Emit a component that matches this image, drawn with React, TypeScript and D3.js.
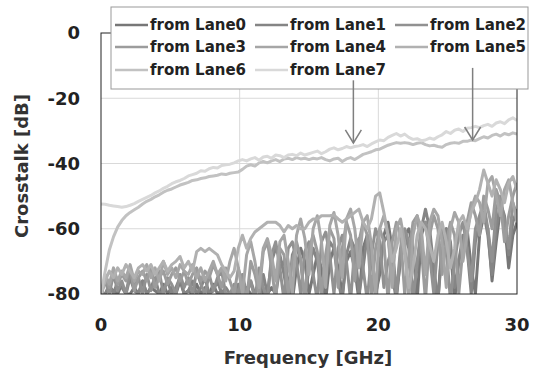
import React from "react";
import * as d3 from "d3";

const W = 539;
const H = 371;

const xTicks = [0, 10, 20, 30];
const yTicks = [0, -20, -40, -60, -80];
const laneNames = ["from Lane0", "from Lane1", "from Lane2", "from Lane3", "from Lane4", "from Lane5", "from Lane6", "from Lane7"];
const laneColors = ["#777777", "#858585", "#919191", "#9c9c9c", "#a6a6a6", "#b1b1b1", "#c2c2c2", "#d9d9d9"];

// frequency grid (GHz), 0.3 GHz step
const freqs = d3.range(0, 101).map((i) => +(i * 0.3).toFixed(1));

const lane0 = [
  -80, -80, -78, -79, -80, -77, -80, -80, -78, -80, -76,
  -80, -78, -79, -80, -77, -80, -78, -80, -76, -80,
  -79, -80, -77, -80, -78, -80, -77, -80, -79, -80,
  -80, -79, -80, -80, -78, -80, -80, -76, -80, -80,
  -78, -80, -72, -70, -76, -82, -72, -66, -70, -80,
  -74, -68, -72, -82, -70, -66, -72, -80, -70, -67,
  -72, -82, -66, -62, -68, -80, -74, -62, -58, -66,
  -80, -70, -62, -60, -66, -82, -62, -58, -64, -76,
  -82, -64, -60, -66, -82, -70, -64, -60, -72, -80,
  -62, -56, -60, -76, -64, -54, -58, -72, -62, -58, -62,
];
const lane1 = [
  -80, -80, -77, -80, -76, -78, -80, -75, -79, -80, -76,
  -80, -78, -75, -80, -79, -76, -80, -78, -75, -80,
  -79, -76, -80, -78, -75, -80, -79, -76, -80, -78,
  -80, -80, -77, -80, -80, -76, -80, -82, -74, -80,
  -70, -66, -68, -74, -82, -68, -65, -70, -82, -72,
  -66, -70, -80, -74, -64, -66, -76, -82, -68, -63,
  -66, -80, -72, -62, -66, -82, -70, -64, -62, -74,
  -82, -68, -62, -66, -80, -72, -60, -54, -60, -72,
  -82, -66, -60, -64, -78, -70, -62, -66, -80, -64,
  -58, -55, -62, -74, -60, -52, -56, -68, -58, -54, -64,
];
const lane2 = [
  -80, -76, -80, -74, -79, -76, -80, -73, -78, -75, -80,
  -74, -79, -76, -73, -80, -75, -77, -80, -74, -78,
  -75, -80, -73, -77, -80, -74, -79, -75, -73, -80,
  -80, -77, -80, -74, -80, -76, -82, -72, -78, -82,
  -68, -64, -72, -82, -66, -64, -70, -80, -67, -64,
  -74, -82, -64, -61, -68, -80, -66, -62, -70, -82,
  -66, -63, -72, -82, -68, -60, -64, -78, -70, -66,
  -80, -66, -60, -64, -82, -70, -60, -58, -68, -80,
  -64, -60, -66, -82, -70, -62, -58, -66, -76, -60,
  -56, -52, -60, -70, -54, -50, -58, -66, -52, -56, -62,
];
const lane3 = [
  -80, -75, -78, -73, -77, -74, -76, -72, -79, -75, -73,
  -76, -72, -78, -75, -73, -77, -74, -72, -76, -73,
  -77, -74, -72, -76, -73, -75, -71, -74, -78, -72,
  -76, -80, -72, -77, -82, -70, -74, -80, -67, -64,
  -72, -82, -66, -68, -80, -70, -64, -69, -82, -66,
  -62, -67, -80, -68, -60, -63, -78, -66, -58, -62,
  -76, -64, -58, -62, -80, -66, -60, -64, -82, -64,
  -58, -62, -80, -68, -58, -56, -66, -82, -62, -56,
  -60, -74, -64, -58, -62, -80, -66, -58, -52, -56,
  -62, -50, -54, -60, -48, -52, -64, -56, -50, -46, -60,
];
const lane4 = [
  -82, -74, -77, -72, -76, -73, -75, -71, -76, -73, -74,
  -71, -75, -72, -76, -70, -74, -72, -75, -71, -73,
  -74, -71, -75, -72, -76, -73, -70, -74, -72, -76,
  -70, -66, -72, -80, -68, -64, -70, -78, -66, -63,
  -68, -76, -64, -62, -70, -80, -62, -57, -63, -74,
  -60, -56, -64, -78, -59, -55, -62, -75, -57, -54,
  -60, -72, -58, -56, -65, -80, -60, -56, -62, -78,
  -60, -57, -64, -82, -62, -56, -60, -74, -58, -54,
  -56, -64, -78, -60, -55, -58, -70, -62, -54, -50,
  -52, -58, -46, -44, -50, -56, -48, -45, -52, -58, -55,
];
const lane5 = [
  -80, -76, -73, -75, -72, -74, -71, -73, -75, -72, -71,
  -73, -71, -74, -72, -70, -73, -71, -70, -68.5, -72,
  -70, -73, -67, -66, -67, -66, -67, -68, -71, -73,
  -75, -73, -66, -62, -66, -63, -61, -60, -59, -58,
  -58, -58, -59, -61, -59, -60, -59, -60, -60, -58,
  -57, -57, -56, -56, -56, -55.8, -57, -58, -57, -56,
  -55, -54, -58, -60, -57, -50, -49, -55, -62, -70,
  -66, -60, -68, -78, -72, -62, -58, -60, -65, -70,
  -62, -58, -64, -72, -66, -58, -56, -60, -55, -52,
  -48, -42, -46, -50, -45, -48, -52, -46, -44, -48, -50,
];
const lane6 = [
  -80, -73, -66.5, -62.5, -59.5, -57.5, -56, -55, -54.2, -53.4, -52.4,
  -51.6, -51, -50.2, -49.6, -48.8, -48.2, -47.8, -47.2, -46.6, -46.2,
  -45.8, -45.2, -45, -44.6, -44.4, -44, -43.8, -43.6, -43.2, -43.4,
  -43, -42.8, -42.6, -41.8, -40.8, -40.4, -40.8, -39.8, -39.4, -39.8,
  -39.2, -38.8, -39.4, -38.6, -38.4, -38.8, -38.2, -38.6, -38.4, -38.8,
  -38.4, -38.6, -38.2, -38.8, -39.2, -38.6, -38.4, -39.4, -38.6, -38.2,
  -38.8, -38, -37.2, -36.8, -36.4, -35.8, -35.6, -35, -34.4, -34,
  -33.6, -33.8, -33.6, -33.8, -34.2, -33.8, -33.6, -34.2, -34.6, -34.4,
  -34.8, -35, -34.2, -33.8, -33.6, -33.8, -33.2, -33.2, -32.8, -33,
  -32.4, -31.8, -32.2, -31.4, -31, -31.6, -30.8, -31.2, -30.6, -31, -34,
];
const lane7 = [
  -52.4, -52.5, -52.8, -53, -53.2, -53.4, -53.2, -52.8, -52.3, -51.6, -51,
  -50.4, -49.8, -49, -48.4, -47.6, -47, -46.2, -45.6, -45.2, -44.6,
  -43.8, -43.4, -43, -42.2, -42.4, -41.6, -41.2, -41.4, -40.6, -40.4,
  -40.2, -39.8, -39.2, -38.8, -39.2, -38.6, -38.2, -39, -38, -37.8,
  -38.4, -37.4, -37.6, -38.2, -37.4, -37.2, -37.6, -36.8, -37.4, -37,
  -36.6, -36.2, -37, -36.4, -35.6, -35.2, -35.8, -35.4, -34.8, -35.2,
  -34.8, -34.6, -34.2, -34.8, -34, -33.4, -32.8, -33, -32, -31.4,
  -30.8, -31.6, -31, -32, -32.6, -32.4, -33, -32.8, -32.2, -32.6,
  -31.8, -31.2, -30.2, -30.8, -29.8, -29.4, -30.2, -29.2, -29, -28.6,
  -29, -28.4, -28, -28.6, -27.6, -27.2, -27.8, -26.6, -26, -26.8, -27,
];
const laneValues = [lane0, lane1, lane2, lane3, lane4, lane5, lane6, lane7];

// annotation arrows (GHz, dB)
const arrowFreq = [18.2, 26.8];
const arrowFrom = [-14.5, -10.7];
const arrowTo = [-33.7, -32.8];

export default function App() {
  const left = 101, right = 517, top = 33, bottom = 294;
  const x = d3.scaleLinear().domain([0, 30]).range([left, right]);
  const y = d3.scaleLinear().domain([-80, 0]).range([bottom, top]);
  const line = d3
    .line<number>()
    .x((_, i) => x(freqs[i]))
    .y((d) => y(d));
  const font = "'DejaVu Sans', Verdana, sans-serif";
  const legendCols = [115, 255, 395];
  const legendRows = [25, 47, 70];

  return (
    <svg width={W} height={H} style={{ position: "absolute", left: 0, top: 0, background: "#fff" }} fontFamily={font}>
      <defs>
        <clipPath id="plotclip">
          <rect x={left} y={top} width={right - left} height={bottom - top} />
        </clipPath>
      </defs>
      {/* gridlines */}
      {yTicks.slice(1, -1).map((t) => (
        <line key={"gy" + t} x1={left} x2={right} y1={y(t)} y2={y(t)} stroke="#d9d9d9" strokeWidth={1} />
      ))}
      {xTicks.slice(1, -1).map((t) => (
        <line key={"gx" + t} x1={x(t)} x2={x(t)} y1={top} y2={bottom} stroke="#d9d9d9" strokeWidth={1} />
      ))}
      {/* series */}
      <g clipPath="url(#plotclip)">
        {laneValues.map((vals, k) => (
          <path
            key={"l" + k}
            d={line(vals) || ""}
            fill="none"
            stroke={laneColors[k]}
            strokeWidth={3}
            strokeLinejoin="round"
          />
        ))}
      </g>
      {/* frame */}
      <rect x={left} y={top} width={right - left} height={bottom - top} fill="none" stroke="#222" strokeWidth={1} />
      {/* y ticks */}
      {yTicks.map((t) => (
        <text key={"ty" + t} x={80} y={y(t)} dy="0.36em" textAnchor="end" fontSize={18} fontWeight="bold" fill="#222">
          {t}
        </text>
      ))}
      {xTicks.map((t) => (
        <text key={"tx" + t} x={x(t)} y={331} textAnchor="middle" fontSize={18} fontWeight="bold" fill="#222">
          {t}
        </text>
      ))}
      <text x={308} y={364} textAnchor="middle" fontSize={18} fontWeight="bold" fill="#333">
        Frequency [GHz]
      </text>
      <text transform={`translate(28,166) rotate(-90)`} textAnchor="middle" fontSize={18} fontWeight="bold" fill="#333">
        Crosstalk [dB]
      </text>
      {/* legend */}
      <rect x={111} y={7} width={417} height={82} fill="#fff" stroke="#999" strokeWidth={1} />
      {laneNames.map((name, k) => {
        const cx = legendCols[k % 3];
        const cy = legendRows[Math.floor(k / 3)];
        return (
          <g key={"lg" + k}>
            <line x1={cx} x2={cx + 33} y1={cy} y2={cy} stroke={laneColors[k]} strokeWidth={2.5} />
            <text x={cx + 35} y={cy} dy="0.36em" fontSize={15} fontWeight="bold" fill="#222">
              {name}
            </text>
          </g>
        );
      })}
      {/* arrows */}
      {arrowFreq.map((f, k) => {
        const ax = x(f);
        const y0 = y(arrowFrom[k]);
        const y1 = y(arrowTo[k]);
        return (
          <g key={"ar" + k} stroke="#7f7f7f" strokeWidth={1.5} fill="none">
            <line x1={ax} x2={ax} y1={y0} y2={y1} />
            <polyline points={`${ax - 8},${y1 - 13} ${ax},${y1} ${ax + 8},${y1 - 13}`} />
          </g>
        );
      })}
    </svg>
  );
}
